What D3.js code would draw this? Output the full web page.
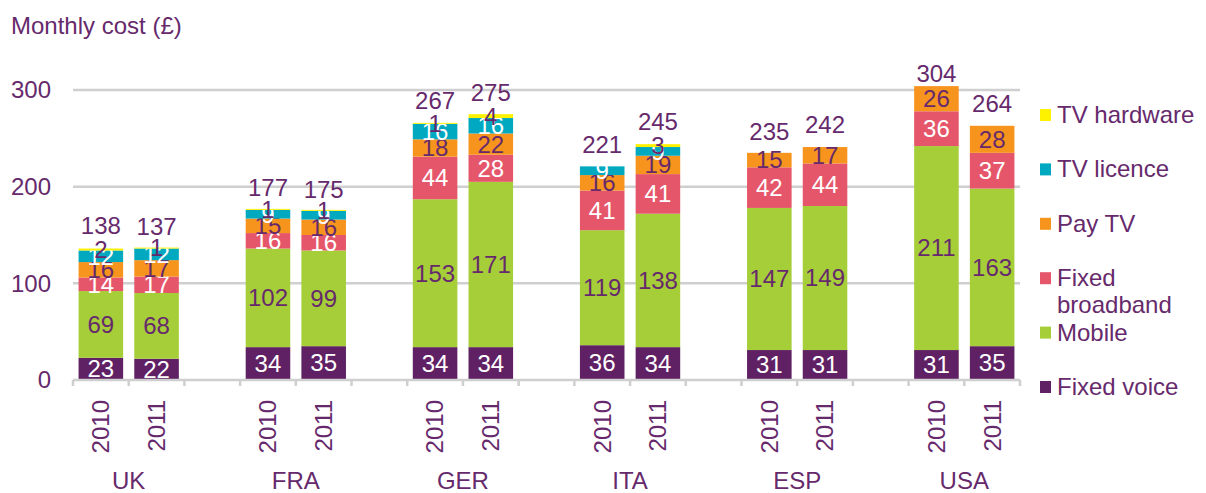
<!DOCTYPE html>
<html>
<head>
<meta charset="utf-8">
<script src="https://cdn.jsdelivr.net/npm/d3@7"></script>
<style>
  body { margin: 0; background: #fff; }
  text { font-family: "Liberation Sans", Arial, sans-serif; }
</style>
</head>
<body>
<div class="chart"></div>
<script>
// data
var countries = [ 'UK' , 'FRA' , 'GER' , 'ITA' , 'ESP' , 'USA' ];
var years = [ '2010' , '2011' ];
var seriesNames = [ 'Fixed voice' , 'Mobile' , 'Fixed broadband' , 'Pay TV' , 'TV licence' , 'TV hardware' ];

// one value per bar: UK10, UK11, FRA10, FRA11, ... USA11
var fixedVoice     = [ 23 , 22 , 34 , 35 , 34 , 34 , 36 , 34 , 31 , 31 , 31 , 35 ];
var mobile         = [ 69 , 68 , 102 , 99 , 153 , 171 , 119 , 138 , 147 , 149 , 211 , 163 ];
var fixedBroadband = [ 14 , 17 , 16 , 16 , 44 , 28 , 41 , 41 , 42 , 44 , 36 , 37 ];
var payTV          = [ 16 , 17 , 15 , 16 , 18 , 22 , 16 , 19 , 15 , 17 , 26 , 28 ];
var tvLicence      = [ 12 , 12 , 9 , 9 , 16 , 16 , 9 , 9 , 0 , 0 , 0 , 0 ];
var tvHardware     = [ 2 , 1 , 1 , 1 , 1 , 4 , 0 , 3 , 0 , 0 , 0 , 0 ];
var totals         = [ 138 , 137 , 177 , 175 , 267 , 275 , 221 , 245 , 235 , 242 , 304 , 264 ];
var yTicks = [ 0 , 100 , 200 , 300 ];

var colors = [ '#5f2164' , '#a6ce39' , '#e5566a' , '#f7941d' , '#00a9bf' , '#fff200' ];
var labelColors = [ '#fff' , '#662a6c' , '#fff' , '#662a6c' , '#fff' , '#662a6c' ];
var textColor = '#662a6c';

var seriesValues = [ fixedVoice , mobile , fixedBroadband , payTV , tvLicence , tvHardware ];

// rows for the stack, one per bar
var rows = [];
countries.forEach( function( c , ci ){
    years.forEach( function( yr , yi ){
        var i = ci * 2 + yi;
        var row = { key: c + '-' + yr , country: c , year: yr , total: totals[ i ] };
        seriesNames.forEach( function( s , si ){ row[ s ] = seriesValues[ si ][ i ]; });
        rows.push( row );
    });
});

// slots along the axis, with an empty slot between countries
var slots = [];
countries.forEach( function( c , ci ){
    years.forEach( function( yr ){ slots.push( c + '-' + yr ); });
    if ( ci < countries.length - 1 ) slots.push( 'gap' + ci );
});

var width = 1206 , height = 493;

var svg = d3.select( '.chart' )
    .append( 'svg' )
    .attr( 'width' , width )
    .attr( 'height' , height );

var x = d3.scaleBand()
    .domain( slots )
    .range( [ 73 , 1020 ] )
    .padding( 0 );

var y = d3.scaleLinear()
    .domain( [ 0 , 300 ] )
    .range( [ 380 , 90 ] );

var barInset = x.bandwidth() * 0.1;
var barWidth = x.bandwidth() * 0.8;

// title
svg.append( 'text' )
    .attr( 'x' , 11 )
    .attr( 'y' , 34 )
    .attr( 'fill' , textColor )
    .attr( 'font-size' , 24 )
    .text( 'Monthly cost (£)' );

// gridlines
svg.selectAll( '.grid' )
    .data( yTicks.filter( function( d ){ return d > 0; }) )
    .enter()
        .append( 'line' )
        .attr( 'x1' , 73 )
        .attr( 'x2' , 1020 )
        .attr( 'y1' , function( d ){ return y( d ); })
        .attr( 'y2' , function( d ){ return y( d ); })
        .attr( 'stroke' , '#cfcfcf' )
        .attr( 'stroke-width' , 2.5 );

// y labels
svg.selectAll( '.ylab' )
    .data( yTicks )
    .enter()
        .append( 'text' )
        .attr( 'x' , 51 )
        .attr( 'y' , function( d ){ return y( d ); })
        .attr( 'dy' , '0.35em' )
        .attr( 'text-anchor' , 'end' )
        .attr( 'fill' , textColor )
        .attr( 'font-size' , 24 )
        .text( function( d ){ return d; });

// stacked bars
var stack = d3.stack().keys( seriesNames );
var layers = stack( rows );

var layer = svg.selectAll( '.layer' )
    .data( layers )
    .enter()
        .append( 'g' )
        .attr( 'fill' , function( d , i ){ return colors[ i ]; });

layer.selectAll( 'rect' )
    .data( function( d ){ return d; })
    .enter()
        .append( 'rect' )
        .attr( 'x' , function( d ){ return x( d.data.key ) + barInset; })
        .attr( 'width' , barWidth )
        .attr( 'y' , function( d ){ return y( d[ 1 ] ); })
        .attr( 'height' , function( d ){ return y( d[ 0 ] ) - y( d[ 1 ] ); });

// x axis line and ticks at slot edges
svg.append( 'line' )
    .attr( 'x1' , 73 )
    .attr( 'x2' , 1020 )
    .attr( 'y1' , y( 0 ) )
    .attr( 'y2' , y( 0 ) )
    .attr( 'stroke' , '#cfcfcf' )
    .attr( 'stroke-width' , 2.5 );

var edges = slots.map( function( s ){ return x( s ); }).concat( [ x.range()[ 1 ] ] );
svg.selectAll( '.tick' )
    .data( edges )
    .enter()
        .append( 'line' )
        .attr( 'x1' , function( d ){ return d; })
        .attr( 'x2' , function( d ){ return d; })
        .attr( 'y1' , y( 0 ) )
        .attr( 'y2' , y( 0 ) + 6 )
        .attr( 'stroke' , '#cfcfcf' )
        .attr( 'stroke-width' , 2.5 );

// segment labels
layer.selectAll( 'text' )
    .data( function( d , i ){
        return d.map( function( p ){ p.si = i; return p; })
            .filter( function( p ){ return p[ 1 ] - p[ 0 ] > 0; });
    })
    .enter()
        .append( 'text' )
        .attr( 'x' , function( d ){ return x( d.data.key ) + x.bandwidth() / 2; })
        .attr( 'y' , function( d ){ return ( y( d[ 0 ] ) + y( d[ 1 ] ) ) / 2; })
        .attr( 'dy' , '0.35em' )
        .attr( 'text-anchor' , 'middle' )
        .attr( 'font-size' , 24 )
        .attr( 'fill' , function( d ){ return labelColors[ d.si ]; })
        .text( function( d ){ return d[ 1 ] - d[ 0 ]; });

// totals above the bars, kept inside the plot
svg.selectAll( '.total' )
    .data( rows )
    .enter()
        .append( 'text' )
        .attr( 'x' , function( d ){ return x( d.key ) + x.bandwidth() / 2; })
        .attr( 'y' , function( d ){ return Math.max( y( d.total ) - 13 , y( 300 ) - 8 ); })
        .attr( 'text-anchor' , 'middle' )
        .attr( 'font-size' , 24 )
        .attr( 'fill' , textColor )
        .text( function( d ){ return d.total; });

// year labels, rotated
svg.selectAll( '.year' )
    .data( rows )
    .enter()
        .append( 'text' )
        .attr( 'transform' , function( d ){
            return 'translate(' + ( x( d.key ) + x.bandwidth() / 2 ) + ',400) rotate(-90)';
        })
        .attr( 'dy' , '0.35em' )
        .attr( 'text-anchor' , 'end' )
        .attr( 'font-size' , 24 )
        .attr( 'fill' , textColor )
        .text( function( d ){ return d.year; });

// country labels between the two years
svg.selectAll( '.country' )
    .data( countries )
    .enter()
        .append( 'text' )
        .attr( 'x' , function( d ){ return x( d + '-2011' ); })
        .attr( 'y' , 489 )
        .attr( 'text-anchor' , 'middle' )
        .attr( 'font-size' , 24 )
        .attr( 'fill' , textColor )
        .text( function( d ){ return d; });

// legend, top to bottom
var legendOrder = seriesNames.map( function( s , i ){ return i; }).reverse();
var legend = svg.selectAll( '.legend' )
    .data( legendOrder )
    .enter()
        .append( 'g' )
        .attr( 'transform' , function( d , i ){ return 'translate(1040,' + ( 115 + i * 54.4 ) + ')'; });

legend.append( 'rect' )
    .attr( 'x' , 0 )
    .attr( 'y' , -6 )
    .attr( 'width' , 11 )
    .attr( 'height' , 12 )
    .attr( 'fill' , function( d ){ return colors[ d ]; });

legend.append( 'text' )
    .attr( 'x' , 17 )
    .attr( 'y' , 8 )
    .attr( 'font-size' , 24 )
    .attr( 'fill' , textColor )
    .each( function( d ){
        var name = seriesNames[ d ];
        var t = d3.select( this );
        if ( name === 'Fixed broadband' ) {
            t.append( 'tspan' ).attr( 'x' , 17 ).text( 'Fixed' );
            t.append( 'tspan' ).attr( 'x' , 17 ).attr( 'dy' , 27 ).text( 'broadband' );
        } else {
            t.text( name );
        }
    });
</script>
</body>
</html>
